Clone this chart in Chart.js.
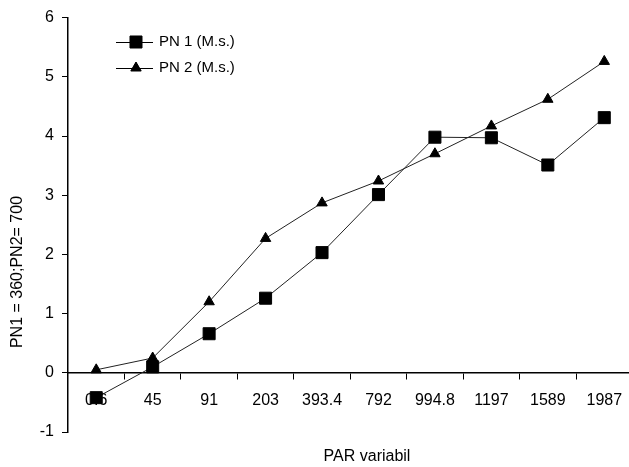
<!DOCTYPE html>
<html>
<head>
<meta charset="utf-8">
<script src="https://cdn.jsdelivr.net/npm/chart.js@4"></script>
<style>
  html, body { margin: 0; padding: 0; background: #fff; overflow: hidden; }
  #wrap { width: 642px; height: 467px; position: relative; }
</style>
</head>
<body>
<div id="wrap"><canvas id="parChart"></canvas></div>
<script>
// PAR levels on the x axis
const parLevels = ["0.6", "45", "91", "203", "393.4", "792", "994.8", "1197", "1589", "1987"];
// net photosynthesis series
const pn1Values = [-0.42, 0.10, 0.66, 1.26, 2.03, 3.01, 3.98, 3.97, 3.51, 4.31];
const pn2Values = [0.05, 0.25, 1.20, 2.27, 2.87, 3.24, 3.70, 4.17, 4.62, 5.26];
const seriesNames = ["PN 1 (M.s.)", "PN 2 (M.s.)"];
const yTitle = "PN1 = 360;PN2= 700";
const xTitle = "PAR variabil";

const FONT = "Liberation Sans, Arial, sans-serif";

// legend + axis titles drawn by hand so they can sit where the original has them
const extras = {
    id: 'extras',
    afterDraw(chart) {
        const ctx = chart.ctx;
        ctx.save();
        ctx.fillStyle = '#000';
        ctx.strokeStyle = '#000';

        // legend
        ctx.font = '15px ' + FONT;
        ctx.textBaseline = 'middle';
        ctx.textAlign = 'left';
        const rows = [{ y: 42, style: 'rect', r: 8.5 }, { y: 68, style: 'triangle', r: 6 }];
        rows.forEach((row, i) => {
            ctx.lineWidth = 1;
            ctx.beginPath();
            ctx.moveTo(116, row.y + 0.5);
            ctx.lineTo(153, row.y + 0.5);
            ctx.stroke();
            Chart.helpers.drawPoint(ctx, { pointStyle: row.style, radius: row.r, borderWidth: 1 }, 136, row.y);
            ctx.fill();
            ctx.fillText(seriesNames[i], 159, row.y);
        });

        // axis titles
        ctx.font = '16px ' + FONT;
        ctx.textAlign = 'center';
        ctx.fillText(xTitle, 367, 457);
        ctx.translate(18, 272);
        ctx.rotate(-Math.PI / 2);
        ctx.fillText(yTitle, 0, 0);
        ctx.restore();
    }
};

const ctx = document.getElementById('parChart').getContext('2d');
const parChart = new Chart(ctx, {
    type: 'line',
    data: {
        labels: parLevels,
        datasets: [{
            label: seriesNames[0],
            data: pn1Values,
            borderColor: '#222',
            borderWidth: 1,
            backgroundColor: '#000',
            pointStyle: 'rect',
            pointRadius: 8.5,
            pointBorderColor: '#000',
            pointBackgroundColor: '#000',
            tension: 0
        }, {
            label: seriesNames[1],
            data: pn2Values,
            borderColor: '#222',
            borderWidth: 1,
            backgroundColor: '#000',
            pointStyle: 'triangle',
            pointRadius: 6,
            pointBorderColor: '#000',
            pointBackgroundColor: '#000',
            tension: 0
        }]
    },
    options: {
        responsive: true,
        maintainAspectRatio: false,
        animation: false,
        layout: { padding: { top: 17, right: 0, bottom: 35, left: 0 } },
        plugins: {
            legend: { display: false },
            tooltip: { enabled: false }
        },
        scales: {
            x: {
                position: { y: 0 },
                offset: true,
                grid: {
                    offset: true,
                    drawOnChartArea: false,
                    drawTicks: true,
                    tickLength: 6,
                    tickColor: '#000'
                },
                border: { display: true, color: '#000', width: 1.5 },
                ticks: {
                    color: '#000',
                    font: { family: FONT, size: 16 },
                    padding: 12,
                    maxRotation: 0,
                    autoSkip: false
                }
            },
            y: {
                min: -1,
                max: 6,
                afterFit(scale) { scale.width = 68; },
                grid: {
                    drawOnChartArea: false,
                    drawTicks: true,
                    tickLength: 6,
                    tickColor: '#000'
                },
                border: { display: true, color: '#000', width: 1.5 },
                ticks: {
                    stepSize: 1,
                    color: '#000',
                    font: { family: FONT, size: 16 },
                    padding: 8
                }
            }
        }
    },
    plugins: [extras]
});
</script>
</body>
</html>
